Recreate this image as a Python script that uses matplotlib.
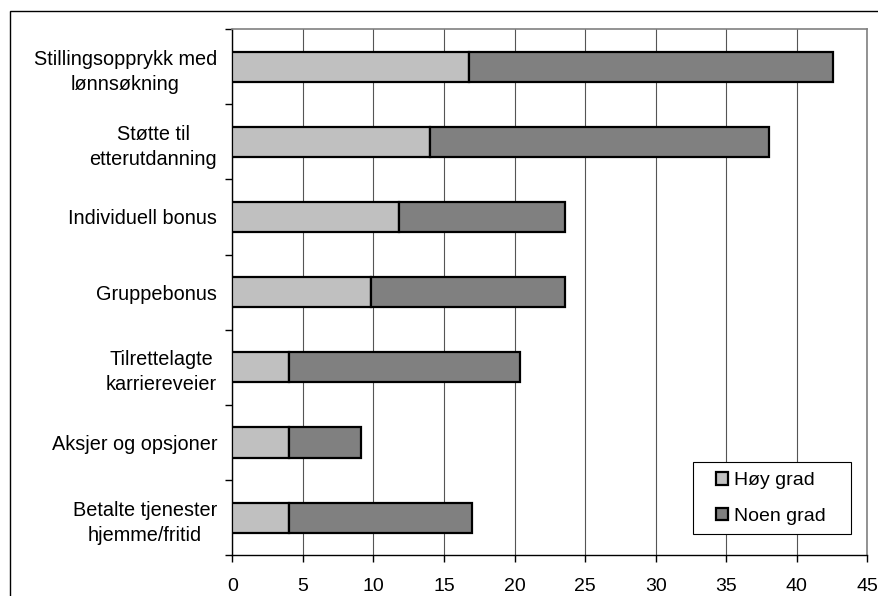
import numpy as np
import matplotlib
matplotlib.use("Agg")
import matplotlib.pyplot as plt
from matplotlib.patches import Rectangle

plt.rcParams['font.family'] = ['Liberation Sans', 'DejaVu Sans']

categories = ["Stillingsopprykk med\nlønnsøkning",
              "Støtte til\netterutdanning",
              "Individuell bonus",
              "Gruppebonus",
              "Tilrettelagte\nkarriereveier",
              "Aksjer og opsjoner",
              "Betalte tjenester\nhjemme/fritid"]
hoy_grad = [16.8, 14.0, 11.8, 9.8, 4.0, 4.0, 4.0]
noen_grad = [25.8, 24.0, 11.8, 13.8, 16.4, 5.1, 13.0]
series_names = ["Høy grad", "Noen grad"]
x_ticks = [0, 5, 10, 15, 20, 25, 30, 35, 40, 45]

fig = plt.figure(figsize=(8.79, 5.96), dpi=100)
ax = fig.add_axes([0.2643, 0.0683, 0.7224, 0.883])

# outer frame (partly off the picture, as in the original)
fig.patches.append(Rectangle((10 / 879, -0.1), 1.2, 1 - 11 / 596 + 0.1,
                             transform=fig.transFigure, fill=False,
                             edgecolor='black', linewidth=1.0))

y = np.arange(len(categories))
ax.barh(y, hoy_grad, height=0.4, color='#C0C0C0', edgecolor='black',
        linewidth=1.6, label=series_names[0], zorder=3)
ax.barh(y, noen_grad, left=hoy_grad, height=0.4, color='#808080',
        edgecolor='black', linewidth=1.6, label=series_names[1], zorder=3)

ax.set_xlim(0, 45)
ax.set_ylim(len(categories) - 0.5, -0.5)
ax.set_xticks(x_ticks)
ax.set_xticklabels([str(v) for v in x_ticks], fontsize=14)
ax.tick_params(axis='x', direction='out', length=5, width=1, pad=11)

ax.set_yticks(y)
ax.set_yticklabels(categories, fontsize=14.3, multialignment='center',
                   linespacing=1.4)
ax.tick_params(axis='y', which='major', length=0, pad=11)
ax.set_yticks(np.arange(-0.5, len(categories)), minor=True)
ax.tick_params(axis='y', which='minor', direction='out', length=5, width=1)

ax.grid(axis='x', color='#555555', linewidth=0.8, zorder=0)
ax.set_axisbelow(True)

for s in ['top', 'right']:
    ax.spines[s].set_color('#808080')
    ax.spines[s].set_linewidth(1.2)
for s in ['left', 'bottom']:
    ax.spines[s].set_color('black')
    ax.spines[s].set_linewidth(1.0)

# legend box drawn separately (Excel style, wide side padding)
ax.add_patch(Rectangle((0.725, 0.0405), 0.25, 0.1365, transform=ax.transAxes,
                       facecolor='white', edgecolor='black', linewidth=0.8,
                       zorder=4))
leg = ax.legend(loc='upper left', bbox_to_anchor=(0.762, 0.158),
                borderaxespad=0, borderpad=0, fontsize=14, frameon=False,
                handlelength=0.62, handleheight=0.62, handletextpad=0.3,
                labelspacing=0.95)
leg.set_zorder(5)

fig.savefig("out.png", dpi=100)
